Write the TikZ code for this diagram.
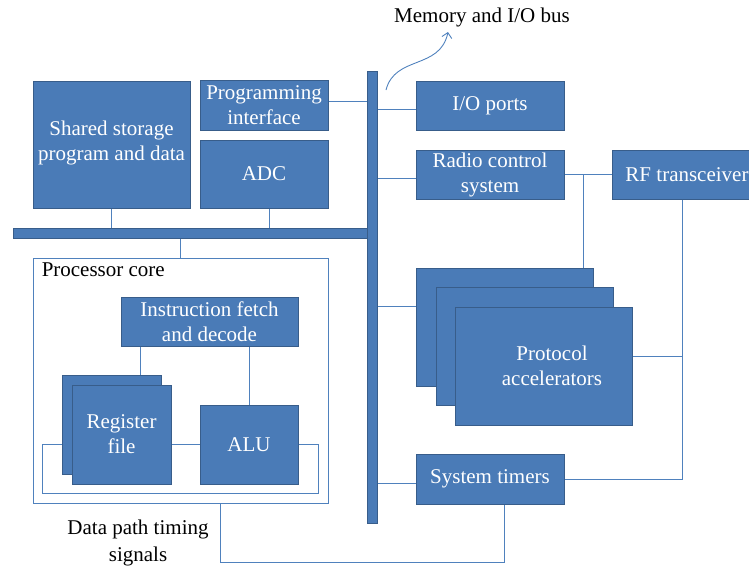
\documentclass[tikz,border=0pt]{standalone}
\usepackage{fontspec}
\setmainfont{Liberation Serif}
\usetikzlibrary{arrows.meta}

\definecolor{blkfill}{RGB}{74,123,183}
\definecolor{blkedge}{RGB}{56,93,138}
\definecolor{wirecol}{RGB}{79,129,189}

\tikzset{
    blk/.style={draw=blkedge, fill=blkfill, text=white, align=center, inner sep=0pt,
        line width=1pt, font=\fontsize{21}{25}\selectfont},
    busbar/.style={draw=blkedge, fill=blkfill, inner sep=0pt, line width=1pt},
    wire/.style={draw=wirecol, line width=0.9pt},
    lbl/.style={text=black, align=center, inner sep=0pt, font=\fontsize{21}{27}\selectfont},
}

\begin{document}
\begin{tikzpicture}[x=1pt, y=-1pt]
    \useasboundingbox (0,0) rectangle (749,571);

    % left column
    \node[blk, minimum width=157pt, minimum height=127pt, text depth=8pt] (store) at (111.5,144.5) {Shared storage\\program and data};
    \node[blk, minimum width=128pt, minimum height=50pt] (prog) at (264,105.5) {Programming\\interface};
    \node[blk, minimum width=128pt, minimum height=68pt] (adc) at (264,174) {ADC};

    % buses
    \node[busbar, minimum width=354pt, minimum height=10pt] (hbus) at (190,233) {};
    \node[busbar, minimum width=10pt, minimum height=452pt] (vbus) at (372,297) {};

    % processor core
    \node[draw=wirecol, line width=0.9pt, fill=white, inner sep=0pt,
        minimum width=295pt, minimum height=245pt] (core) at (180.5,380.5) {};
    \node[lbl, anchor=north west] (corelabel) at ([shift={(9pt,-5pt)}]core.north west) {Processor core};

    \node[blk, minimum width=177pt, minimum height=49pt] (fetch) at (209.5,321.5) {Instruction fetch\\and decode};
    \node[blk, minimum width=99pt, minimum height=99pt] (regb) at (111.5,424.5) {};
    \node[blk, minimum width=99pt, minimum height=99pt] (regf) at (121.5,434.5) {Register\\file};
    \node[blk, minimum width=98pt, minimum height=79pt] (alu) at (249,444.5) {ALU};

    \draw[wire] ([xshift=20pt]fetch.south west) -- ([xshift=20pt]fetch.south west |- regb.north);
    \draw[wire] (alu.north) -- (alu.north |- fetch.south);
    \draw[wire] (alu.west) -- (alu.west -| regf.east);
    \draw[wire] (alu.east) -| ++(20,49) -| ([xshift=-19pt]regb.west |- alu.east) -- (regb.west |- alu.east);

    \draw[wire] (store.south) -- (store.south |- hbus.north);
    \draw[wire] ([xshift=5pt]adc.south) -- ([xshift=5pt]adc.south |- hbus.north);
    \draw[wire] (hbus.south -| core.north) -- (core.north);
    \draw[wire] ([yshift=4pt]prog.east) -- ([yshift=4pt]prog.east -| vbus.west);

    % right column
    \node[blk, minimum width=148pt, minimum height=49pt] (io) at (490,105.5) {I/O ports};
    \node[blk, minimum width=148pt, minimum height=49pt] (radio) at (490,174.5) {Radio control\\system};
    \node[blk, minimum width=150pt, minimum height=49pt] (rf) at (687,174.5) {RF transceiver};
    \node[blk, minimum width=177pt, minimum height=118pt] (pa1) at (504.5,327) {};
    \node[blk, minimum width=177pt, minimum height=118pt] (pa2) at (524.5,346.5) {};
    \node[blk, minimum width=177pt, minimum height=118pt] (pa3) at (544,366) {};
    \node[text=white, align=center, font=\fontsize{21}{25}\selectfont] (patext) at ([xshift=8pt]pa3.center) {Protocol\\accelerators};
    \node[blk, minimum width=148pt, minimum height=50pt] (timers) at (490,479) {System timers};

    \draw[wire] ([yshift=-4pt]io.west) -- ([yshift=-4pt]io.west -| vbus.east);
    \draw[wire] ([yshift=-4pt]radio.west) -- ([yshift=-4pt]radio.west -| vbus.east);
    \draw[wire] (pa1.west |- pa3.north) -- (vbus.east |- pa3.north);
    \draw[wire] ([yshift=-4pt]timers.west) -- ([yshift=-4pt]timers.west -| vbus.east);
    \draw[wire] (radio.east) -- (rf.west);
    \draw[wire] ([xshift=-10pt]pa1.north east) -- ([xshift=-10pt]pa1.north east |- radio.east);
    \coordinate (rfdrop) at ([xshift=-5pt]rf.south);
    \draw[wire] (rfdrop) |- (timers.east);
    \draw[wire] ([yshift=10pt]pa3.east) -- ([yshift=10pt]pa3.east -| rfdrop);

    % timing signals
    \draw[wire] ([xshift=40pt]core.south) -- ++(0,59) -| ([xshift=14pt]timers.south);
    \node[lbl] (dplabel) at (138,543) {Data path timing\\signals};

    % bus arrow
    \coordinate (busout) at (386,90);
    \coordinate (bustip) at (448,32);
    \draw[wire, -{Straight Barb[length=5pt,width=10pt]}] (busout) .. controls (395,55) and (440,70) .. (bustip);
    \node[lbl] (buslabel) at (482,17) {Memory and I/O bus};
\end{tikzpicture}
\end{document}
